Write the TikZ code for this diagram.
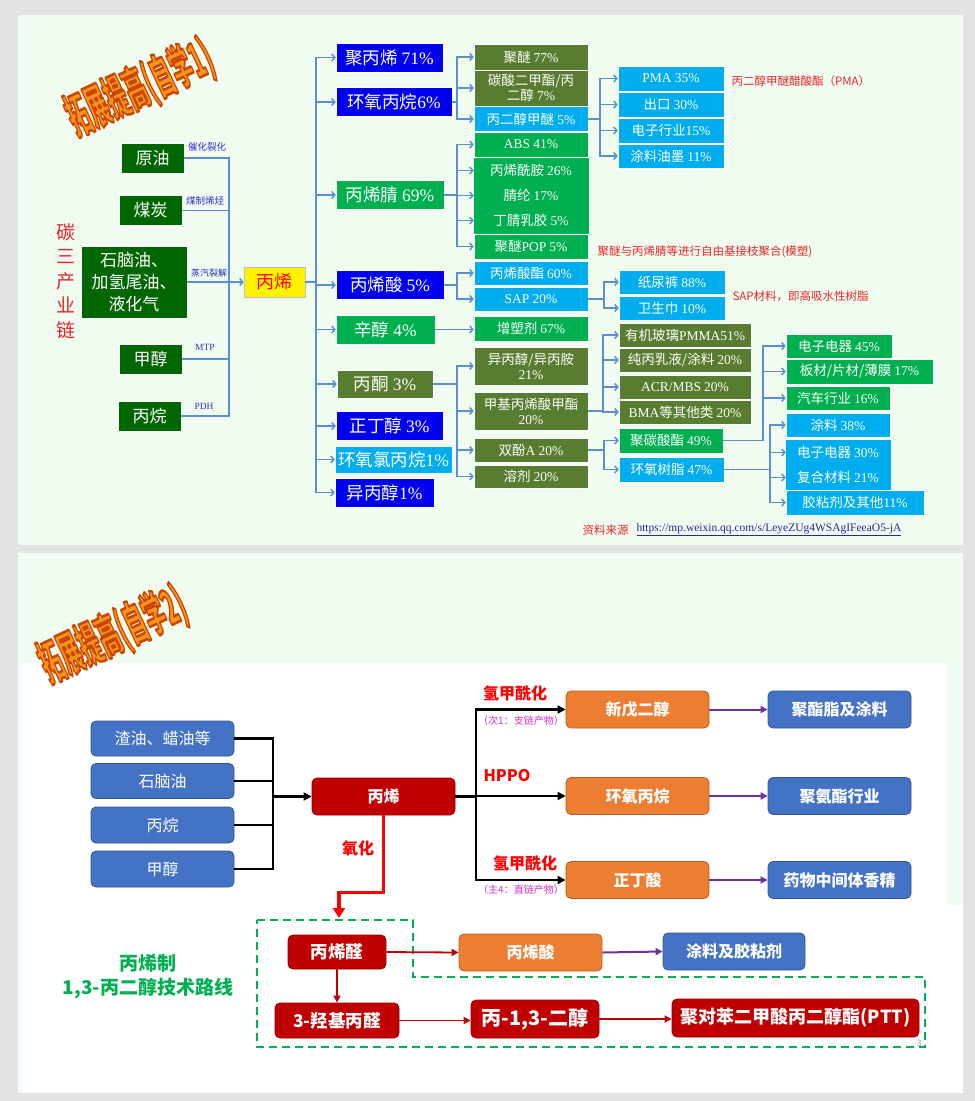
\documentclass[tikz,border=0pt]{standalone}
\usepackage{fontspec}
\setmainfont{Noto Sans CJK SC}
\newfontfamily\tnr{Liberation Serif}
\usetikzlibrary{arrows.meta,positioning}

\definecolor{pagegray}{HTML}{E3E3E3}
\definecolor{slidebg}{HTML}{F0FCF0}
\definecolor{srcgreen}{HTML}{006600}
\definecolor{cblue}{HTML}{0000EE}
\definecolor{cgreen}{HTML}{00B050}
\definecolor{colive}{HTML}{587D30}
\definecolor{ccyan}{HTML}{00AEEF}
\definecolor{lineblue}{HTML}{5B8FCF}
\definecolor{routeblue}{HTML}{3030CC}
\definecolor{notered}{HTML}{E8262A}
\definecolor{pptblue}{HTML}{4472C4}
\definecolor{pptorange}{HTML}{ED7D31}
\definecolor{pptred}{HTML}{C00000}
\definecolor{pptpurple}{HTML}{7030A0}
\definecolor{subpink}{HTML}{D030D0}
\definecolor{titleface}{HTML}{F7941D}
\newcommand{\pct}[1]{{\tnr #1\%}}
% outlined word-art text (fill + dark orange stroke)
\newcommand{\wordarttext}[1]{\special{pdf:literal direct 0.80 0.27 0 RG 1.6 w 1 j 2 Tr}#1\special{pdf:literal direct 0 Tr}}

\begin{document}
\begin{tikzpicture}[x=1pt, y=-1pt,
  box/.style     ={draw=white, line width=0.5pt, text=white, inner sep=1pt, align=center},
  srcbox/.style  ={box, fill=srcgreen, minimum width=63, minimum height=30, font=\fontsize{17}{22}\selectfont},
  lvtwo/.style   ={box, minimum height=29, font=\fontsize{17.5}{20}\selectfont},
  lvthree/.style ={box, minimum width=114, minimum height=25, font=\fontsize{13.5}{15}\selectfont},
  lvfour/.style  ={box, minimum width=106, minimum height=24, font=\fontsize{13.5}{15}\selectfont},
  fb/.style={fill=cblue}, fg/.style={fill=cgreen}, fo/.style={fill=colive}, fc/.style={fill=ccyan},
  route/.style   ={font=\fontsize{9.5}{10}\selectfont, text=routeblue},
  note/.style    ={font=\fontsize{11.5}{12}\selectfont, text=notered, anchor=west},
  bline/.style   ={draw=lineblue, line width=1.5pt},
  arr/.style     ={bline, -{Straight Barb[length=3pt,width=7pt]}},
  wordart/.style ={font=\bfseries\fontsize{30}{30}\selectfont, text=titleface, rotate=25, xscale=0.7, yscale=1.6},
  rbox/.style    ={rounded corners=5pt, fill=#1, draw=#1!75!black, line width=0.8pt, text=white,
                   minimum width=143, minimum height=36, font=\bfseries\fontsize{16}{18}\selectfont},
  blk/.style     ={draw=black, line width=2.3pt},
  blkarr/.style  ={blk, -{Triangle[length=8pt,width=8pt]}},
  purarr/.style  ={draw=pptpurple, line width=2pt, -{Triangle[length=7pt,width=7pt]}},
  redarr/.style  ={draw=pptred, line width=1.8pt, -{Triangle[length=7pt,width=7pt]}},
  oxarr/.style   ={draw=red, line width=3.5pt, -{Triangle[length=10pt,width=12pt]}},
  dashbox/.style ={draw=cgreen, line width=2.5pt, dash pattern=on 8pt off 5pt},
  lab/.style     ={font=\bfseries\fontsize{16}{18}\selectfont, text=red},
  sub/.style     ={font=\fontsize{10}{11}\selectfont, text=subpink}
]
\useasboundingbox (0,0) rectangle (975,1101);

%%% ---- PAGE + SLIDE BACKGROUNDS ------------------------------------------
\fill[pagegray] (0,0) rectangle (975,1101);
\fill[slidebg] (18,15) rectangle (963,545);
\fill[slidebg] (18,553) rectangle (963,1093);
\fill[white] (22,663) rectangle (947,1093);
\fill[white] (22,905) rectangle (963,1093);

%%% ---- SLIDE 1: propylene chain ------------------------------------------
% word-art title
\node[wordart] (wa1) at (140,88) {\wordarttext{拓展提高(自学1)}};

% feedstocks
\node[font=\fontsize{19}{24.5}\selectfont, text=notered, align=center] (c3) at (66,281) {碳\\三\\产\\业\\链};
\node[srcbox] (yy) at (152.5,158)   {原油};
\node[srcbox] (mt) at (150.5,210.5) {煤炭};
\node[srcbox, minimum width=106, minimum height=72] (sn) at (134,282) {石脑油、\\加氢尾油、\\液化气};
\node[srcbox] (jc) at (150.5,359)   {甲醇};
\node[srcbox] (bw) at (149.5,416)   {丙烷};

\node[route] (r1) at (207,147) {催化裂化};
\node[route] (r2) at (205,201) {煤制烯烃};
\node[route, font=\fontsize{9}{10}\selectfont] (r3) at (209,273) {蒸汽裂解};
\node[route, font=\tnr\fontsize{9.5}{10}\selectfont] (r4) at (205,347) {MTP};
\node[route, font=\tnr\fontsize{9.5}{10}\selectfont] (r5) at (204,406) {PDH};

% propylene
\node[box, fill=yellow, draw=black!25, text=red, minimum width=61, minimum height=30,
      font=\fontsize{18}{20}\selectfont] (bx) at (274.5,282) {丙烯};

\coordinate (busL) at (229,0);
\draw[bline] (yy.east) -| (busL |- bw.east) -- (bw.east);
\draw[bline] (mt.east) -- (mt.east -| busL);
\draw[bline] (jc.east) -- (jc.east -| busL);
\draw[arr]   (sn.east) -- (bx.west);

% level 2
\node[lvtwo, fb, minimum width=107] (jbx)  at (389.5,57.5) {聚丙烯 \pct{71}};
\node[lvtwo, fb, minimum width=116] (hyb)  at (394,102)    {环氧丙烷\pct{6}};
\node[lvtwo, fg, minimum width=108] (bxj)  at (390,195)    {丙烯腈 \pct{69}};
\node[lvtwo, fb, minimum width=108] (bxs)  at (390,285)    {丙烯酸 \pct{5}};
\node[lvtwo, fg, minimum width=99]  (xc)   at (385.5,329.5){辛醇 \pct{4}};
\node[lvtwo, fo, minimum width=96, minimum height=28] (bt) at (385,384) {丙酮 \pct{3}};
\node[lvtwo, fb, minimum width=107] (zdc)  at (389.5,426)  {正丁醇 \pct{3}};
\node[lvtwo, fc, minimum width=117, minimum height=27] (hylb) at (393.5,459.5) {环氧氯丙烷\pct{1}};
\node[lvtwo, fb, minimum width=99]  (ybc)  at (384.5,492.5){异丙醇\pct{1}};

\coordinate (bus2) at (316,0);
\draw[bline] (bx.east) -- (bx.east -| bus2);
\foreach \c in {jbx,hyb,bxj,bxs,xc,bt,zdc,hylb,ybc}
  \draw[arr] (bx.east -| bus2) |- (\c.west);

% level 3
\node[lvthree, fo, minimum height=26] (jm)   at (531,57)    {聚醚 \pct{77}};
\node[lvthree, fo, minimum height=36] (tsj)  at (531,88)    {碳酸二甲酯/丙\\二醇 \pct{7}};
\node[lvthree, fc]                    (bem)  at (531,119)   {丙二醇甲醚 \pct{5}};
\node[lvthree, fg]                    (abs)  at (531,144.5) {{\tnr ABS} \pct{41}};
\node[lvthree, fg, draw=cgreen]       (bxxa) at (531,170.5) {丙烯酰胺 \pct{26}};
\node[lvthree, fg, draw=cgreen]       (jl)   at (531,195.5) {腈纶 \pct{17}};
\node[lvthree, fg, draw=cgreen]       (djr)  at (531,220.5) {丁腈乳胶 \pct{5}};
\node[lvthree, fg]                    (pop)  at (531,246.5) {聚醚{\tnr POP} \pct{5}};
\node[lvthree, fc, minimum height=24] (bxsz) at (531,273)   {丙烯酸酯 \pct{60}};
\node[lvthree, fc, minimum height=24] (sap)  at (531,299)   {{\tnr SAP} \pct{20}};
\node[lvthree, fg]                    (szj)  at (531,328.5) {增塑剂 \pct{67}};
\node[lvthree, fo, minimum height=38] (ybca) at (531,366)   {异丙醇/异丙胺\\\pct{21}};
\node[lvthree, fo, minimum height=38] (mma)  at (531,411)   {甲基丙烯酸甲酯\\\pct{20}};
\node[lvthree, fo, minimum height=24] (sfa)  at (531,450)   {双酚{\tnr A} \pct{20}};
\node[lvthree, fo, minimum height=23] (rj)   at (531,476.5) {溶剂 \pct{20}};

\coordinate (bus3) at (457,0);
\draw[bline] (hyb.east) -- (hyb.east -| bus3);
\foreach \c in {jm,tsj,bem} \draw[arr] (hyb.east -| bus3) |- (\c.west);
\draw[bline] (bxj.east) -- (bxj.east -| bus3);
\foreach \c in {abs,bxxa,jl,djr,pop} \draw[arr] (bxj.east -| bus3) |- (\c.west);
\draw[bline] (bxs.east) -- (bxs.east -| bus3);
\foreach \c in {bxsz,sap} \draw[arr] (bxs.east -| bus3) |- (\c.west);
\draw[arr] (xc.east) -- (xc.east -| szj.west);
\draw[bline] (bt.east) -- (bt.east -| bus3);
\foreach \c in {ybca,mma,sfa,rj} \draw[arr] (bt.east -| bus3) |- (\c.west);

% level 4
\node[lvfour, fc, minimum height=25] (pma) at (671,78.5)  {{\tnr PMA} \pct{35}};
\node[lvfour, fc, minimum height=25] (ck)  at (671,104.5) {出口 \pct{30}};
\node[lvfour, fc, minimum height=25] (dz)  at (671,130.5) {电子行业\pct{15}};
\node[lvfour, fc]                    (tly) at (671,156)   {涂料油墨 \pct{11}};
\node[lvfour, fc] (nk)  at (672,282) {纸尿裤 \pct{88}};
\node[lvfour, fc] (wsj) at (672,308) {卫生巾 \pct{10}};
\node[lvfour, fo, minimum width=132] (yjbl) at (685,335) {有机玻璃{\tnr PMMA}\pct{51}};
\node[lvfour, fo, minimum width=132] (cbry) at (685,360) {纯丙乳液/涂料 \pct{20}};
\node[lvfour, fo, minimum width=132] (acr)  at (685,387) {{\tnr ACR/MBS} \pct{20}};
\node[lvfour, fo, minimum width=132] (bma)  at (685,412) {{\tnr BMA}等其他类 \pct{20}};
\node[lvfour, fg, minimum width=104, minimum height=25] (jtsz) at (671,440.5)   {聚碳酸酯 \pct{49}};
\node[lvfour, fc, minimum width=105, minimum height=25] (hysz) at (671.5,469.5) {环氧树脂 \pct{47}};

\coordinate (bus4a) at (600,0);
\draw[bline] (bem.east) -- (bem.east -| bus4a);
\foreach \c in {pma,ck,dz,tly} \draw[arr] (bem.east -| bus4a) |- (\c.west);
\coordinate (bus4b) at (604,0);
\draw[bline] (sap.east) -- (sap.east -| bus4b);
\foreach \c in {nk,wsj} \draw[arr] (sap.east -| bus4b) |- (\c.west);
\coordinate (bus4c) at (603,0);
\draw[bline] (mma.east) -- (mma.east -| bus4c);
\foreach \c in {yjbl,cbry,acr,bma} \draw[arr] (mma.east -| bus4c) |- (\c.west);
\coordinate (bus4d) at (604,0);
\draw[bline] (sfa.east) -- (sfa.east -| bus4d);
\foreach \c in {jtsz,hysz} \draw[arr] (sfa.east -| bus4d) |- (\c.west);

% level 5
\node[lvfour, fg, minimum width=106] (dzq1) at (839,346)   {电子电器 \pct{45}};
\node[lvfour, fg, minimum width=147, minimum height=25] (bc) at (859.5,371.5) {板材/片材/薄膜 \pct{17}};
\node[lvfour, fg, minimum width=104] (qc)   at (838,398)   {汽车行业 \pct{16}};
\node[lvfour, fc, minimum width=104] (tl38) at (838,425)   {涂料 \pct{38}};
\node[lvfour, fc, draw=ccyan, minimum width=104, minimum height=25] (dzq2) at (838,452.5) {电子电器 \pct{30}};
\node[lvfour, fc, draw=ccyan, minimum width=104, minimum height=25] (fhc)  at (838,477.5) {复合材料 \pct{21}};
\node[lvfour, fc, minimum width=138, minimum height=25] (jnj) at (855,502.5) {胶粘剂及其他\pct{11}};

\coordinate (bus5a) at (763,0);
\draw[bline] (jtsz.east) -- (jtsz.east -| bus5a);
\foreach \c in {dzq1,bc,qc} \draw[arr] (jtsz.east -| bus5a) |- (\c.west);
\coordinate (bus5b) at (770,0);
\draw[bline] (hysz.east) -- (hysz.east -| bus5b);
\foreach \c in {tl38,dzq2,fhc,jnj} \draw[arr] (hysz.east -| bus5b) |- (\c.west);

% red notes + source
\node[note] (n1) at (728,81)  {丙二醇甲醚醋酸酯（PMA）};
\node[note] (n2) at (594,252) {聚醚与丙烯腈等进行自由基接枝聚合(模塑)};
\node[note] (n3) at (729,296) {SAP材料，即高吸水性树脂};
\node[note] (src) at (579,530) {资料来源};
\node[anchor=west, font=\tnr\fontsize{11.5}{12}\selectfont, text=routeblue!80!black] (url) at (633,530)
     {\underline{https://mp.weixin.qq.com/s/LeyeZUg4WSAgIFeeaO5-jA}};

%%% ---- SLIDE 2: 1,3-propanediol route -------------------------------------
\node[wordart] (wa2) at (113,635) {\wordarttext{拓展提高(自学2)}};

% feedstocks
\node[rbox=pptblue, font=\fontsize{16}{18}\selectfont, minimum height=35] (zy)  at (162.5,738.5) {渣油、蜡油等};
\node[rbox=pptblue, font=\fontsize{16}{18}\selectfont, minimum height=35] (sny) at (162.5,781)   {石脑油};
\node[rbox=pptblue, font=\fontsize{16}{18}\selectfont] (bw2) at (162.5,825) {丙烷};
\node[rbox=pptblue, font=\fontsize{16}{18}\selectfont] (jc2) at (162.5,869) {甲醇};
\node[rbox=pptred, minimum height=37] (bx2) at (383.5,796.5) {丙烯};

\coordinate (busM) at (273,0);
\draw[blk] (zy.east) -| (busM |- jc2.east) -- (jc2.east);
\draw[blk] (sny.east) -- (sny.east -| busM);
\draw[blk] (bw2.east) -- (bw2.east -| busM);
\draw[blkarr] (bx2.west -| busM) -- (bx2.west);

% three routes
\node[rbox=pptorange, minimum height=37] (xwe)  at (637.5,709.5) {新戊二醇};
\node[rbox=pptorange, minimum height=37] (hyb2) at (637.5,796)   {环氧丙烷};
\node[rbox=pptorange, minimum height=37] (zds)  at (637.5,880)   {正丁酸};
\node[rbox=pptblue, minimum height=37]   (jzz)  at (839.5,709.5) {聚酯脂及涂料};
\node[rbox=pptblue, minimum height=37]   (jaz)  at (839.5,796)   {聚氨酯行业};
\node[rbox=pptblue, minimum height=37]   (ywz)  at (839.5,880)   {药物中间体香精};

\coordinate (busR) at (476,0);
\draw[blk] (bx2.east) -- (bx2.east -| busR);
\foreach \c in {xwe,hyb2,zds} \draw[blkarr] (bx2.east -| busR) |- (\c.west);
\draw[purarr] (xwe.east)  -- (jzz.west);
\draw[purarr] (hyb2.east) -- (jaz.west);
\draw[purarr] (zds.east)  -- (ywz.west);

\node[lab] (l1) at (515,693) {氢甲酰化};
\node[sub] (s1) at (521,721) {（次1：支链产物）};
\node[lab] (l2) at (507,776) {HPPO};
\node[lab] (l3) at (525,863) {氢甲酰化};
\node[sub] (s2) at (521,890) {（主4：直链产物）};

% oxidation branch
\draw[dashbox] (257,920) -| (413,977) -| (925,1047) -- (257,1047) -- cycle;
\coordinate (oxtip) at (339,918);
\draw[oxarr] (bx2.south) -- ++(0,77) -| (oxtip);
\node[lab] (l4) at (358,848) {氧化};

\node[rbox=pptred, minimum width=98, minimum height=34, font=\bfseries\fontsize{17.5}{19}\selectfont] (bxq) at (337,952) {丙烯醛};
\node[rbox=pptred, minimum width=124, minimum height=35, font=\bfseries\fontsize{17.5}{19}\selectfont] (qjb) at (337,1020.5) {3-羟基丙醛};
\node[rbox=pptorange, minimum height=37] (bxs2) at (530.5,952.5) {丙烯酸};
\node[rbox=pptblue, minimum width=142, minimum height=37] (tljn) at (734,951.5) {涂料及胶粘剂};
\node[rbox=pptred, minimum width=128, minimum height=38, font=\bfseries\fontsize{20}{22}\selectfont] (bed) at (535,1019) {丙-1,3-二醇};
\node[rbox=pptred, minimum width=247, minimum height=38, font=\bfseries\fontsize{18}{20}\selectfont] (ptt) at (795.5,1018) {聚对苯二甲酸丙二醇酯(PTT)};

\draw[redarr] (bxq.east) -- (bxs2.west);
\draw[purarr] (bxs2.east) -- (tljn.west);
\draw[redarr] (bxq.south) -- (bxq.south |- qjb.north);
\draw[redarr] (qjb.east) -- (qjb.east -| bed.west);
\draw[redarr] (bed.east) -- (bed.east -| ptt.west);

\node[font=\bfseries\fontsize{19}{24}\selectfont, text=cgreen, align=center] (ttl) at (148,977) {丙烯制\\1,3-丙二醇技术路线};
\node[font=\fontsize{9}{10}\selectfont, text=black!40] (pg) at (919,1043) {3};

\end{tikzpicture}
\end{document}
